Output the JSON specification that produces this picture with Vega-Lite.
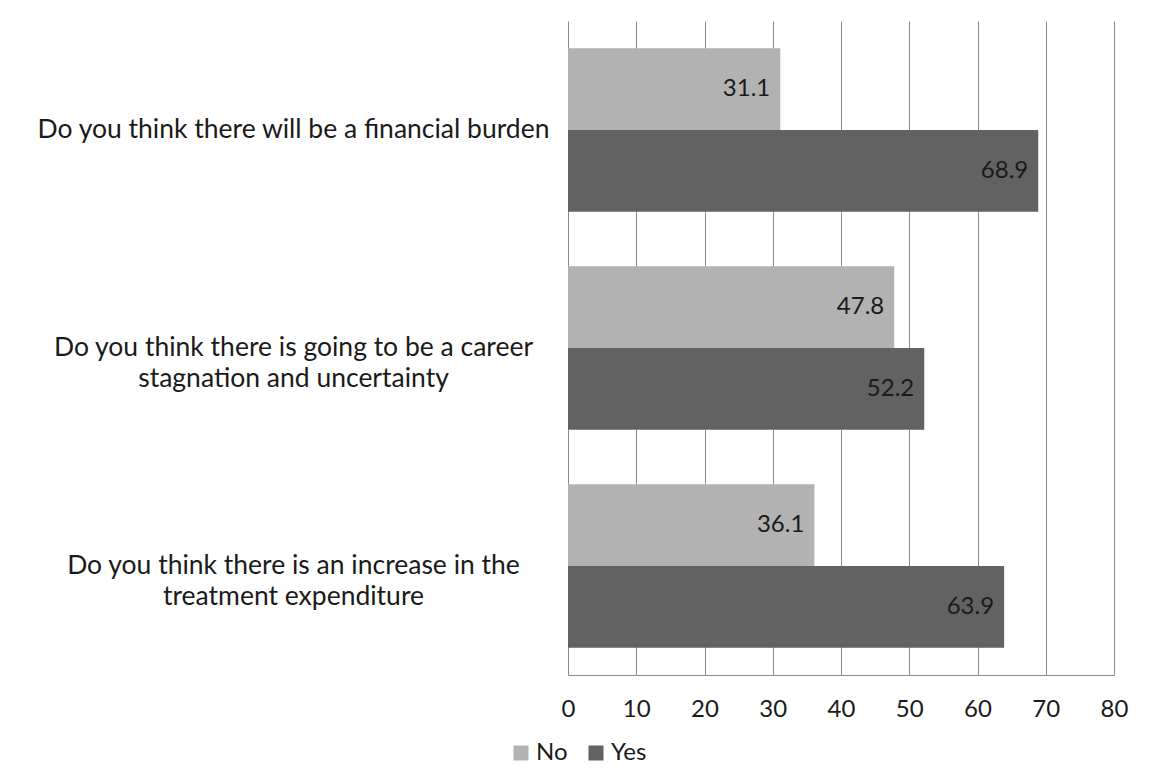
{
  "$schema": "https://vega.github.io/schema/vega-lite/v6.json",
  "width": 546,
  "height": 654,
  "autosize": {"type": "none"},
  "padding": {"left": 568, "top": 21, "right": 35, "bottom": 103},
  "background": "white",
  "config": {"view": {"stroke": null}, "font": "Lato"},
  "data": {
    "values": [
      {"question": "Do you think there will be a financial burden", "answer": "No", "value": 31.1},
      {"question": "Do you think there will be a financial burden", "answer": "Yes", "value": 68.9},
      {"question": "Do you think there is going to be a career\nstagnation and uncertainty", "answer": "No", "value": 47.8},
      {"question": "Do you think there is going to be a career\nstagnation and uncertainty", "answer": "Yes", "value": 52.2},
      {"question": "Do you think there is an increase in the\ntreatment expenditure", "answer": "No", "value": 36.1},
      {"question": "Do you think there is an increase in the\ntreatment expenditure", "answer": "Yes", "value": 63.9}
    ]
  },
  "encoding": {
    "y": {
      "field": "question",
      "type": "nominal",
      "sort": null,
      "scale": {"paddingInner": 0.25, "paddingOuter": 0.125},
      "axis": {
        "title": null,
        "labelExpr": "split(datum.label, '\\n')",
        "labelAlign": "center",
        "labelBaseline": "middle",
        "labelPadding": 275,
        "labelLimit": 700,
        "labelFontSize": 26.5,
        "labelLineHeight": 31,
        "labelColor": "#1a1a1a",
        "ticks": false,
        "tickSize": 0,
        "domain": false,
        "grid": false
      }
    },
    "yOffset": {"field": "answer", "type": "nominal", "sort": ["No", "Yes"]},
    "x": {
      "field": "value",
      "type": "quantitative",
      "scale": {"domain": [0, 80], "nice": false},
      "axis": {
        "title": null,
        "values": [0, 10, 20, 30, 40, 50, 60, 70, 80],
        "grid": true,
        "gridColor": "#8a8a8a",
        "gridWidth": 1,
        "domain": true,
        "domainColor": "#8a8a8a",
        "domainWidth": 1,
        "ticks": false,
        "tickSize": 0,
        "labelFontSize": 24,
        "labelPadding": 22,
        "labelColor": "#1a1a1a",
        "labelFlush": false
      }
    }
  },
  "layer": [
    {
      "mark": {"type": "bar"},
      "encoding": {
        "color": {
          "field": "answer",
          "type": "nominal",
          "sort": ["No", "Yes"],
          "scale": {"domain": ["No", "Yes"], "range": ["#b2b2b2", "#626262"]},
          "legend": {
            "title": null,
            "orient": "none",
            "direction": "horizontal",
            "legendX": -59,
            "legendY": 720,
            "padding": 0,
            "symbolType": "square",
            "symbolSize": 225,
            "symbolStrokeWidth": 0,
            "labelFontSize": 24,
            "labelColor": "#1a1a1a",
            "labelOffset": 3,
            "columnPadding": 16
          }
        }
      }
    },
    {
      "mark": {"type": "text", "align": "right", "baseline": "middle", "dx": -10, "fontSize": 24, "color": "#1a1a1a"},
      "encoding": {"text": {"field": "value", "type": "quantitative", "format": ".1f"}}
    }
  ]
}
